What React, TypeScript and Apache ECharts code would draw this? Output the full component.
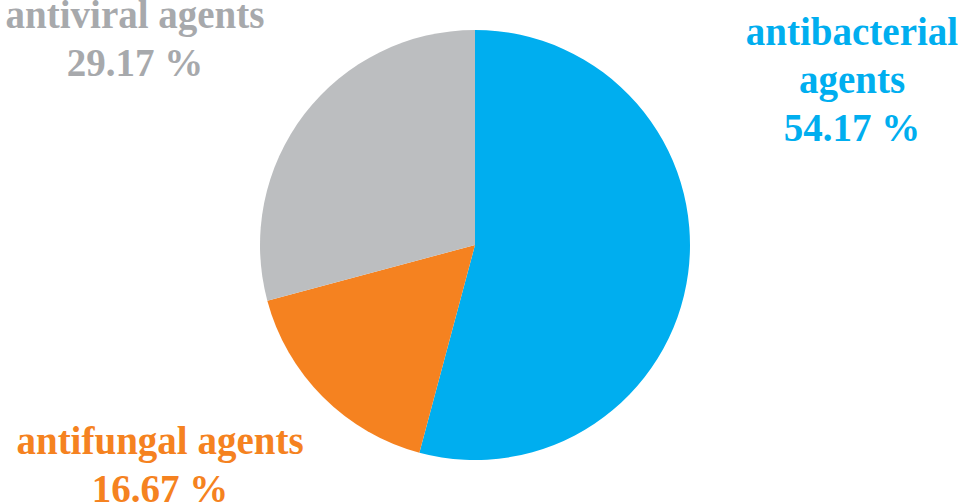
import React, { useEffect, useRef } from "react";
import * as echarts from "echarts";

const categories = ["antibacterial\nagents", "antifungal agents", "antiviral agents"];
const values = [54.17, 16.67, 29.17];
const sliceColors = ["#00AEEF", "#F58220", "#BCBEC0"];
const labelColors = ["#00AEEF", "#F58220", "#A7A9AC"];
// label block centres (layout only)
const labelCenters: [number, number][] = [
  [852, 79],
  [160, 464],
  [135, 38],
];
const LINE_H = 48;

export default function App() {
  const ref = useRef<HTMLDivElement>(null);
  useEffect(() => {
    document.body.style.margin = "0";
    const chart = echarts.init(ref.current!, undefined, { renderer: "svg" });
    const texts: any[] = [];
    categories.forEach((name, i) => {
      const lines = [...name.split("\n"), `${values[i].toFixed(2)} %`];
      lines.forEach((line, j) => {
        texts.push({
          type: "text",
          x: labelCenters[i][0],
          y: labelCenters[i][1] + (j - (lines.length - 1) / 2) * LINE_H,
          silent: true,
          style: {
            text: line,
            fontFamily: "Tinos, Liberation Serif, serif",
            fontWeight: "bold",
            fontSize: 39,
            fill: labelColors[i],
            align: "center",
            verticalAlign: "middle",
          },
        });
      });
    });
    chart.setOption({
      animation: false,
      backgroundColor: "#ffffff",
      series: [
        {
          type: "pie",
          center: [475, 245],
          radius: 215,
          startAngle: 90,
          clockwise: true,
          emphasis: { disabled: true },
          silent: true,
          label: { show: false },
          labelLine: { show: false },
          data: categories.map((name, i) => ({
            name,
            value: values[i],
            itemStyle: { color: sliceColors[i] },
          })),
        },
      ],
      graphic: texts,
    });
    return () => chart.dispose();
  }, []);
  return (
    <div
      ref={ref}
      style={{ position: "fixed", left: 0, top: 0, width: 965, height: 502 }}
    />
  );
}
